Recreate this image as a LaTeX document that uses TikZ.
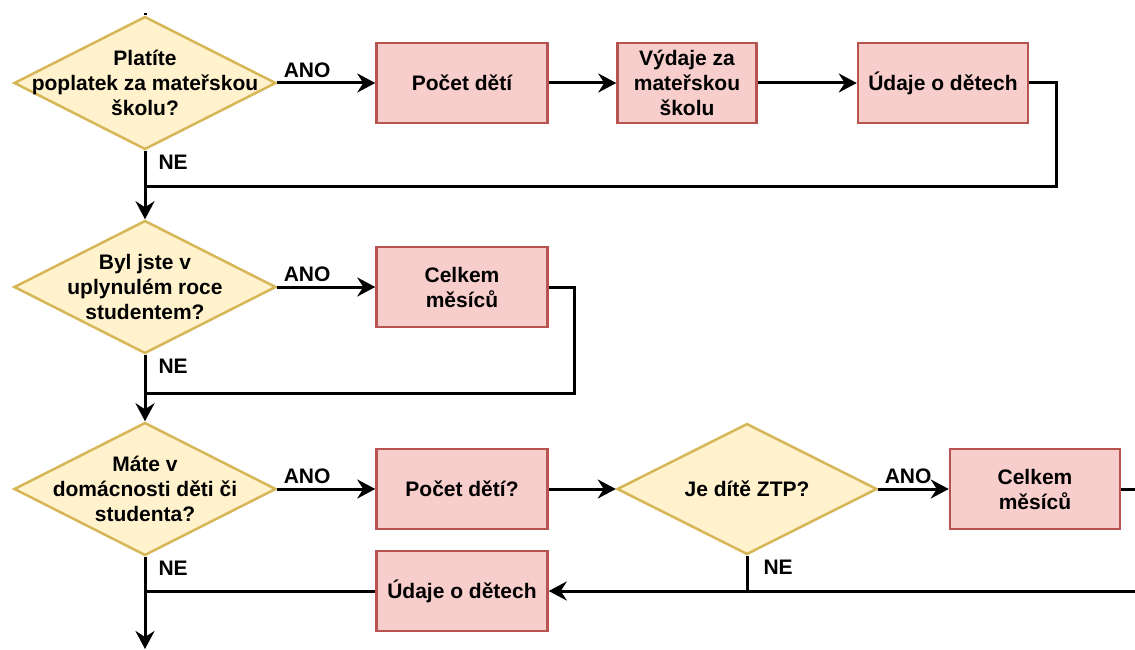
\documentclass[tikz,border=0pt]{standalone}
\usepackage{fontspec}
\setmainfont{Liberation Sans}
\usetikzlibrary{shapes.geometric,arrows.meta}
\definecolor{dfill}{HTML}{FFF2CC}
\definecolor{ddraw}{HTML}{D6B656}
\definecolor{bfill}{HTML}{F8CECC}
\definecolor{bdraw}{HTML}{B85450}
\begin{document}
\begin{tikzpicture}[x=1pt,y=-1pt,
  font=\fontsize{21}{25}\selectfont\bfseries,
  dec/.style={diamond, draw=ddraw, fill=dfill, line width=2.5pt, minimum width=262pt, minimum height=133pt, inner sep=0pt},
  box/.style={rectangle, draw=bdraw, fill=bfill, line width=2.5pt, minimum width=171pt, minimum height=80pt, align=center, inner sep=0pt},
  txt/.style={align=center},
  conn/.style={line width=3pt, line join=miter},
  arr/.style={conn, -{Stealth[length=18pt,width=19pt,inset=6pt]}},
  ano/.style={at start, anchor=south west, inner sep=4pt, xshift=1pt},
  ne/.style={at start, anchor=north west, inner sep=3pt, xshift=9pt}]
\useasboundingbox (0,0) rectangle (1135,650);
% nodes
\node[dec, label={[txt]center:Platíte\\poplatek za mateřskou\\školu?}] (d1) at (145,83) {};
\node[box] (b1) at (462,83) {Počet dětí};
\node[box, minimum width=139pt] (b2) at (687,83) {Výdaje za\\mateřskou\\školu};
\node[box, minimum width=170pt] (b3) at (943,83) {Údaje o dětech};
\node[dec, label={[txt]center:Byl jste v\\uplynulém roce\\studentem?}] (d2) at (145,287) {};
\node[box] (b4) at (462,287) {Celkem\\měsíců};
\node[dec, label={[txt]center:Máte v\\domácnosti děti či\\studenta?}] (d3) at (145,489) {};
\node[box] (b5) at (462,489) {Počet dětí?};
\node[dec, minimum width=260pt, minimum height=131pt, label={[txt]center:Je dítě ZTP?}] (d4) at (747,489) {};
\node[box, minimum width=170pt] (b6) at (1035,489) {Celkem\\měsíců};
\node[box] (b7) at (462,591) {Údaje o dětech};
% free ends
\coordinate (top) at (145,13);
\coordinate (j1) at (145,186);
\coordinate (j2) at (145,393);
\coordinate (j3) at (145,591);
\coordinate (j4) at (747,591);
\coordinate (bot) at (145,649);
\coordinate (rout) at (1135,489);
\coordinate (rin) at (1135,591);
% connectors row 1
\draw[conn] (top) -- (d1.north);
\draw[arr] (d1.east) -- node[ano]{ANO} (b1.west);
\draw[arr] (b1.east) -- (b2.west);
\draw[arr] (b2.east) -- (b3.west);
\draw[conn] (b3.east) -- ++(27,0) |- (j1);
\draw[arr] (d1.south) -- node[ne]{NE} (d2.north);
% row 2
\draw[arr] (d2.east) -- node[ano]{ANO} (b4.west);
\draw[conn] (b4.east) -- ++(26,0) |- (j2);
\draw[arr] (d2.south) -- node[ne]{NE} (d3.north);
% row 3
\draw[arr] (d3.east) -- node[ano]{ANO} (b5.west);
\draw[arr] (b5.east) -- (d4.west);
\draw[arr] (d4.east) -- node[ano]{ANO} (b6.west);
\draw[conn] (b6.east) -- (rout);
\draw[conn] (d4.south) -- node[ne, xshift=3pt]{NE} (j4);
\draw[arr] (rin) -- (b7.east);
\draw[conn] (b7.west) -- (j3);
\draw[arr] (d3.south) -- node[ne]{NE} (bot);
\end{tikzpicture}
\end{document}
